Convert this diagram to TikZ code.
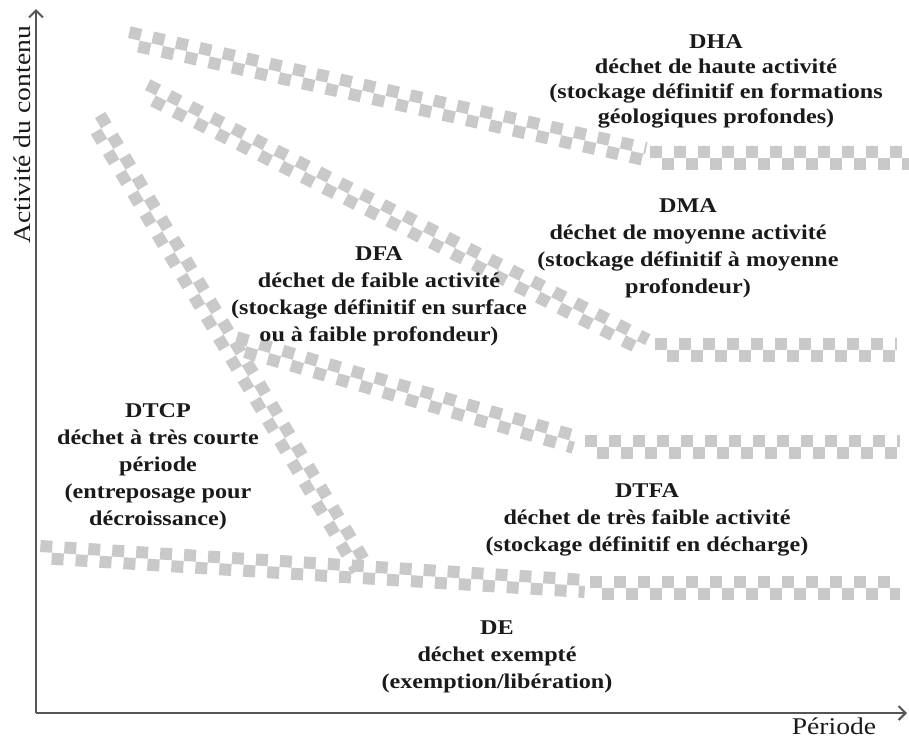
\documentclass[tikz,border=0pt]{standalone}
\usepackage{fontspec}
\setmainfont{Liberation Serif}[FakeStretch=1.15]
\usepackage{tikz}
\usetikzlibrary{calc}
\usetikzlibrary{arrows.meta}
\definecolor{bandGray}{HTML}{c9c9c9}
\definecolor{axisGray}{HTML}{555555}
\definecolor{textDark}{HTML}{1a1a1a}
\newcommand{\checkband}[2]{
    \draw [band] ($(#1)!6pt!90:(#2)$) -- ($(#2)!6pt!-90:(#1)$);
    \draw [band, dash phase=12pt] ($(#1)!6pt!-90:(#2)$) -- ($(#2)!6pt!90:(#1)$);
}

\begin{document}
\begin{tikzpicture}[x=1pt, y=-1pt, inner sep=0pt, align=center,
    band/.style={draw=bandGray, line width=12pt, dash pattern=on 12pt off 12pt},
    lbl/.style={text=textDark, font=\bfseries\fontsize{21}{27}\selectfont},
    axlbl/.style={text=textDark, font=\fontsize{24}{28}\selectfont},
    axis/.style={draw=axisGray, line width=2pt, -{Straight Barb[length=7pt, width=14pt, line width=2pt]}}]
    \useasboundingbox (0,0) rectangle (909,740);

    % band ends
    \coordinate (dha1) at (128,38);  \coordinate (dha2) at (645,154);
    \coordinate (dha3) at (650,158); \coordinate (dha4) at (909,158);
    \coordinate (dma1) at (145,90);  \coordinate (dma2) at (645,345);
    \coordinate (dma3) at (655,350); \coordinate (dma4) at (897,350);
    \coordinate (dfa1) at (235,343); \coordinate (dfa2) at (575,442);
    \coordinate (dfa3) at (585,447); \coordinate (dfa4) at (900,447);
    \coordinate (dtcp1) at (95,118); \coordinate (dtcp2) at (362,568);
    \coordinate (de1) at (40,552);   \coordinate (de2) at (585,586);
    \coordinate (de3) at (590,588);  \coordinate (de4) at (900,588);

    \checkband{dha1}{dha2}
    \checkband{dha3}{dha4}
    \checkband{dma1}{dma2}
    \checkband{dma3}{dma4}
    \checkband{dfa1}{dfa2}
    \checkband{dfa3}{dfa4}
    \checkband{dtcp1}{dtcp2}
    \checkband{de1}{de2}
    \checkband{de3}{de4}

    % axes
    \coordinate (origin) at (36,713);
    \coordinate (yend) at (36,9);
    \coordinate (xend) at (907,713);
    \draw [axis] (origin) -- (yend);
    \draw [axis] (origin) -- (xend);
    \node (ylabel) [axlbl, rotate=90] at (22,135) {Activité du contenu};
    \node (xlabel) [axlbl] at (834,726) {Période};

    % classes
    \node (dha) [lbl, font=\bfseries\fontsize{21}{25}\selectfont] at (716,81) {DHA\\déchet de haute activité\\(stockage définitif en formations\\géologiques profondes)};
    \node (dma) [lbl] at (688,248) {DMA\\déchet de moyenne activité\\(stockage définitif à moyenne\\profondeur)};
    \node (dfa) [lbl] at (379,296) {DFA\\déchet de faible activité\\(stockage définitif en surface\\ou à faible profondeur)};
    \node (dtcp) [lbl] at (158,467) {DTCP\\déchet à très courte\\période\\(entreposage pour\\décroissance)};
    \node (dtfa) [lbl] at (647,520) {DTFA\\déchet de très faible activité\\(stockage définitif en décharge)};
    \node (de) [lbl] at (497,657) {DE\\déchet exempté\\(exemption/libération)};
\end{tikzpicture}
\end{document}
